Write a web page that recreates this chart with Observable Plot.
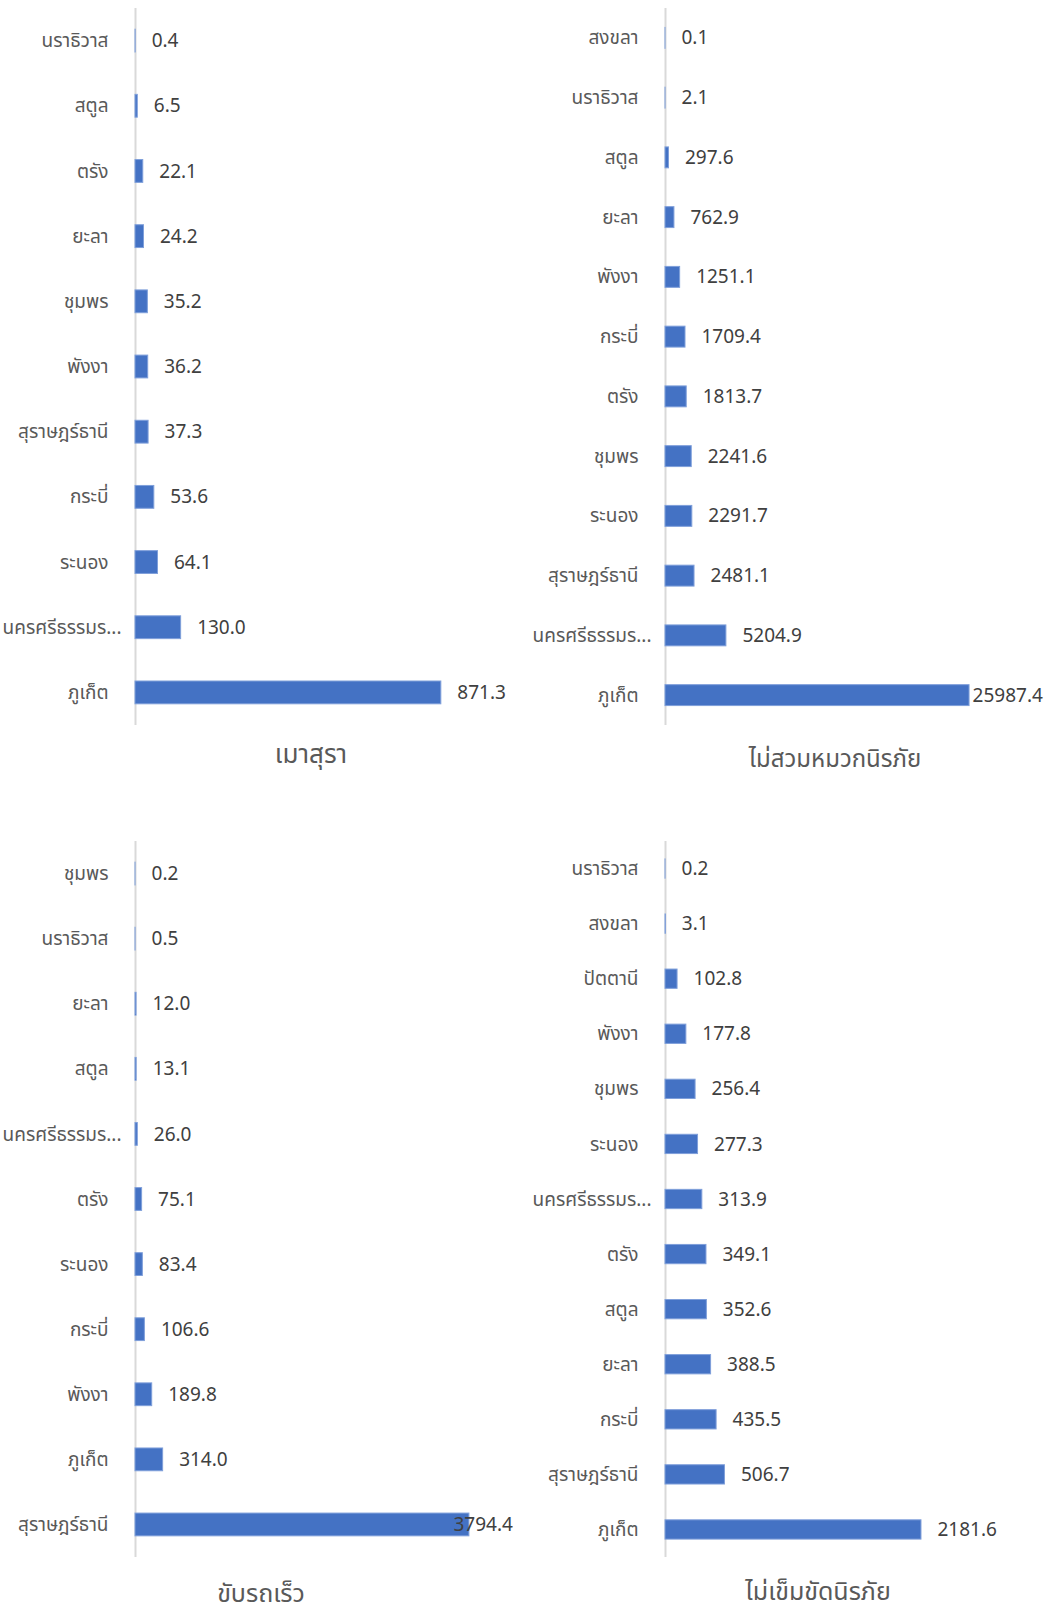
<!DOCTYPE html>
<html>
<head>
<meta charset="utf-8">
<script src="https://cdn.jsdelivr.net/npm/d3@7"></script>
<script src="https://cdn.jsdelivr.net/npm/@observablehq/plot@0.6"></script>
<style>
  html, body { margin: 0; padding: 0; background: #fff; }
  #root { position: relative; width: 1046px; height: 1608px; overflow: hidden;
          font-family: "Noto Sans", "Noto Sans Thai", "DejaVu Sans", sans-serif; }
  .panel { position: absolute; }
  .title { position: absolute; transform: translate(-50%, -50%); white-space: nowrap;
           font-size: 24px; line-height: 1; color: #595959; }
</style>
</head>
<body>
<div id="root"></div>
<script>
// ---- Data ----
const names1 = ["นราธิวาส","สตูล","ตรัง","ยะลา","ชุมพร","พังงา","สุราษฎร์ธานี","กระบี่","ระนอง","นครศรีธรรมร...","ภูเก็ต"];
const vals1  = [0.4, 6.5, 22.1, 24.2, 35.2, 36.2, 37.3, 53.6, 64.1, 130.0, 871.3];
const title1 = "เมาสุรา";

const names2 = ["สงขลา","นราธิวาส","สตูล","ยะลา","พังงา","กระบี่","ตรัง","ชุมพร","ระนอง","สุราษฎร์ธานี","นครศรีธรรมร...","ภูเก็ต"];
const vals2  = [0.1, 2.1, 297.6, 762.9, 1251.1, 1709.4, 1813.7, 2241.6, 2291.7, 2481.1, 5204.9, 25987.4];
const title2 = "ไม่สวมหมวกนิรภัย";

const names3 = ["ชุมพร","นราธิวาส","ยะลา","สตูล","นครศรีธรรมร...","ตรัง","ระนอง","กระบี่","พังงา","ภูเก็ต","สุราษฎร์ธานี"];
const vals3  = [0.2, 0.5, 12.0, 13.1, 26.0, 75.1, 83.4, 106.6, 189.8, 314.0, 3794.4];
const title3 = "ขับรถเร็ว";

const names4 = ["นราธิวาส","สงขลา","ปัตตานี","พังงา","ชุมพร","ระนอง","นครศรีธรรมร...","ตรัง","สตูล","ยะลา","กระบี่","สุราษฎร์ธานี","ภูเก็ต"];
const vals4  = [0.2, 3.1, 102.8, 177.8, 256.4, 277.3, 313.9, 349.1, 352.6, 388.5, 435.5, 506.7, 2181.6];
const title4 = "ไม่เข็มขัดนิรภัย";

// ---- Layout / style config ----
const fmt = d3.format(".1f");
const isTrunc = s => s.endsWith("...");
const panels = [
  {names: names1, vals: vals1, title: title1, left: 0,   top: 0,   width: 523, height: 740,
   mt: 8,  mb: 15, ml: 135, mr: 37, xmax: 1000,  edgeDx: 16, tx: 311, ty: 753, tfs: 26},
  {names: names2, vals: vals2, title: title2, left: 523, top: 0,   width: 523, height: 740,
   mt: 8,  mb: 15, ml: 142, mr: 30, xmax: 30000, edgeDx: 3,  tx: 835, ty: 758, tfs: 24},
  {names: names3, vals: vals3, title: title3, left: 0,   top: 820, width: 523, height: 750,
   mt: 21, mb: 13, ml: 135, mr: 36, xmax: 4000,  edgeDx: -16, tx: 261, ty: 1592, tfs: 25},
  {names: names4, vals: vals4, title: title4, left: 523, top: 820, width: 523, height: 750,
   mt: 21, mb: 13, ml: 142, mr: 29, xmax: 3000,  edgeDx: 16, tx: 818, ty: 1590, tfs: 25}
];

const root = document.getElementById("root");

for (const p of panels) {
  const data = p.names.map((name, i) => ({name, v: p.vals[i]}));
  const vmax = d3.max(p.vals);
  const chart = Plot.plot({
    width: p.width,
    height: p.height,
    marginTop: p.mt, marginBottom: p.mb, marginLeft: p.ml, marginRight: p.mr,
    style: {fontFamily: '"Noto Sans", "Noto Sans Thai", "DejaVu Sans", sans-serif', color: "#595959", background: "transparent", overflow: "visible"},
    x: {domain: [0, p.xmax], axis: null},
    y: {domain: p.names, paddingInner: 0.65, paddingOuter: 0.325, round: false, axis: null},
    marks: [
      Plot.ruleX([0], {stroke: "#D9D9D9", strokeWidth: 2}),
      Plot.barX(data, {x: "v", y: "name", fill: "#4472C4", stroke: "#7F9FDA", strokeWidth: 1}),
      Plot.axisY(p.names.filter(n => !isTrunc(n)), {tickSize: 0, tickPadding: 27, fontSize: 19, fill: "#595959", label: null}),
      Plot.axisY(p.names.filter(isTrunc), {tickSize: 0, tickPadding: 27, dx: 13, fontSize: 19, fill: "#595959", label: null}),
      Plot.text(data.filter(d => d.v !== vmax), {x: "v", y: "name", text: d => fmt(d.v),
        textAnchor: "start", dx: 16, fontSize: 19, fill: "#404040"}),
      Plot.text(data.filter(d => d.v === vmax), {x: "v", y: "name", text: d => fmt(d.v),
        textAnchor: "start", dx: p.edgeDx, fontSize: 19, fill: "#404040"})
    ]
  });
  const wrap = document.createElement("div");
  wrap.className = "panel";
  wrap.style.left = p.left + "px";
  wrap.style.top = p.top + "px";
  wrap.appendChild(chart);
  root.appendChild(wrap);

  const t = document.createElement("div");
  t.className = "title";
  t.style.left = p.tx + "px";
  t.style.top = p.ty + "px";
  t.style.fontSize = p.tfs + "px";
  t.textContent = p.title;
  root.appendChild(t);
}
</script>
</body>
</html>
